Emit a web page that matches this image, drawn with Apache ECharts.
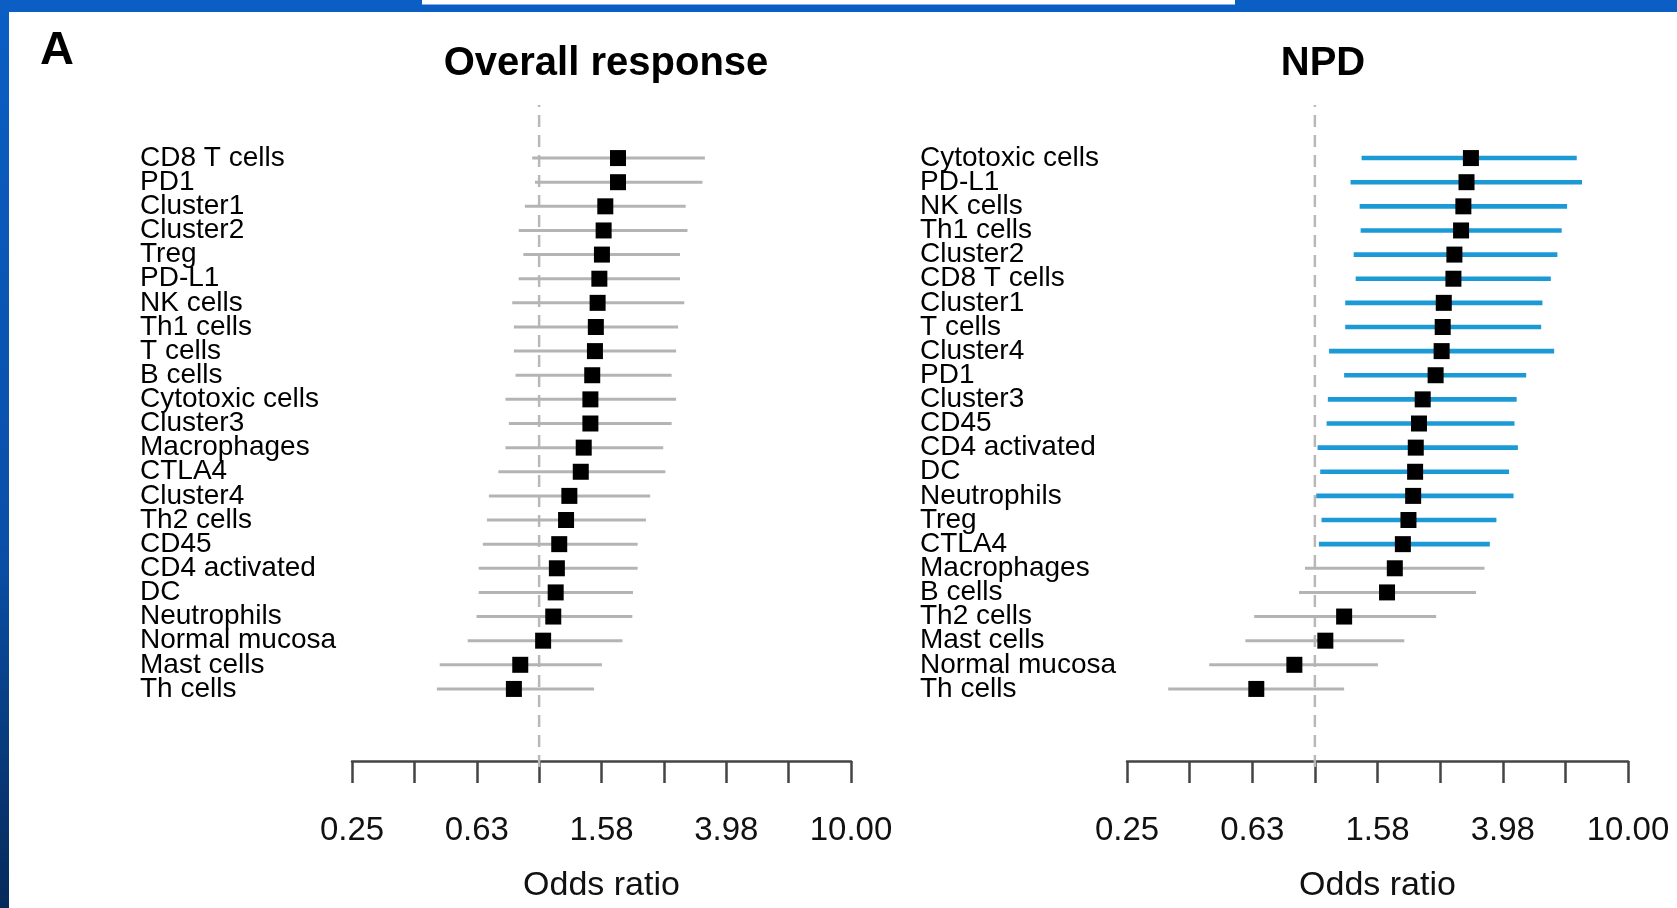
<!DOCTYPE html>
<html>
<head>
<meta charset="utf-8">
<script src="https://cdn.jsdelivr.net/npm/echarts@6/dist/echarts.min.js"></script>
<style>
html,body{margin:0;padding:0;background:#fff;}
#chart{width:1677px;height:908px;}
</style>
</head>
<body>
<div id="chart"></div>
<script>
// ---- data ----
var leftTitle = "Overall response";
var rightTitle = "NPD";
var axisName = "Odds ratio";
var tickLabels = ["0.25", "0.63", "1.58", "3.98", "10.00"];

var leftCategories = ["CD8 T cells","PD1","Cluster1","Cluster2","Treg","PD-L1","NK cells","Th1 cells","T cells","B cells","Cytotoxic cells","Cluster3","Macrophages","CTLA4","Cluster4","Th2 cells","CD45","CD4 activated","DC","Neutrophils","Normal mucosa","Mast cells","Th cells"];
var leftOR   = [1.79,1.79,1.63,1.61,1.59,1.56,1.54,1.52,1.51,1.48,1.46,1.46,1.39,1.36,1.25,1.22,1.16,1.14,1.13,1.11,1.03,0.87,0.83];
var leftLow  = [0.95,0.97,0.90,0.86,0.89,0.86,0.82,0.83,0.83,0.84,0.78,0.80,0.78,0.74,0.69,0.68,0.66,0.64,0.64,0.63,0.59,0.48,0.47];
var leftHigh = [3.40,3.34,2.95,2.99,2.83,2.83,2.92,2.79,2.75,2.66,2.75,2.66,2.50,2.54,2.27,2.20,2.07,2.07,2.00,1.99,1.85,1.59,1.50];

var rightCategories = ["Cytotoxic cells","PD-L1","NK cells","Th1 cells","Cluster2","CD8 T cells","Cluster1","T cells","Cluster4","PD1","Cluster3","CD45","CD4 activated","DC","Neutrophils","Treg","CTLA4","Macrophages","B cells","Th2 cells","Mast cells","Normal mucosa","Th cells"];
var rightOR   = [3.15,3.05,2.98,2.93,2.79,2.77,2.58,2.56,2.54,2.43,2.21,2.15,2.10,2.09,2.06,1.99,1.91,1.80,1.70,1.24,1.08,0.86,0.65];
var rightLow  = [1.41,1.30,1.39,1.40,1.33,1.35,1.25,1.25,1.11,1.24,1.10,1.09,1.02,1.04,1.01,1.05,1.03,0.93,0.89,0.64,0.60,0.46,0.34];
var rightHigh = [6.86,7.13,6.39,6.14,5.95,5.67,5.33,5.28,5.81,4.73,4.41,4.34,4.45,4.17,4.31,3.80,3.62,3.48,3.27,2.44,1.93,1.59,1.24];

// ---- helpers ----
// axis unit: one tick = 10^0.2, so value = 5*log10(OR)
function tv(or){ return 5 * Math.log10(or); }

var GRAY = '#b4b4b4', BLUE = '#1b9ad6', AXIS = '#444';
var FONT = 'Liberation Sans, Arial, sans-serif';

function ciData(cats, low, high){
  return cats.map(function(c,i){ return [tv(low[i]), tv(high[i]), i, low[i] > 1 ? 1 : 0]; });
}
function ptData(cats, or){
  return cats.map(function(c,i){ return [tv(or[i]), i]; });
}
function renderCI(params, api){
  var a = api.coord([api.value(0), api.value(2)]);
  var b = api.coord([api.value(1), api.value(2)]);
  var sig = api.value(3) === 1;
  return {
    type: 'line',
    shape: {x1: a[0], y1: a[1], x2: b[0], y2: b[1]},
    style: {stroke: sig ? BLUE : GRAY, lineWidth: sig ? 4.6 : 3}
  };
}
function labelFmt(v){
  var k = Math.round(v) + 3;
  if (k % 2 !== 0) return '';
  return tickLabels[k / 2];
}

var panels = [
  {left: 352, width: 499, cats: leftCategories, or: leftOR, low: leftLow, high: leftHigh, labelMargin: 212},
  {left: 1127, width: 501, cats: rightCategories, or: rightOR, low: rightLow, high: rightHigh, labelMargin: 207}
];

var CAT_TOP = 146, CAT_H = 561, DASH_TOP = 105, AXIS_Y = 767;

var grid = [], xAxis = [], yAxis = [], series = [];
panels.forEach(function(p, k){
  var gi = k * 2;
  grid.push({left: p.left, width: p.width, top: CAT_TOP, height: CAT_H});
  grid.push({left: p.left, width: p.width, top: DASH_TOP, height: AXIS_Y - DASH_TOP});
  xAxis.push({
    type: 'value', gridIndex: gi, min: -3, max: 5, interval: 1,
    offset: AXIS_Y - (CAT_TOP + CAT_H),
    splitLine: {show: false},
    axisLine: {show: true, lineStyle: {color: AXIS, width: 2.5}},
    axisTick: {show: true, length: 22, lineStyle: {color: AXIS, width: 2.5}},
    axisLabel: {formatter: labelFmt, margin: 53, fontSize: 33, color: '#111', fontFamily: FONT, showMinLabel: true, showMaxLabel: true},
    name: axisName, nameLocation: 'middle', nameGap: 108,
    nameTextStyle: {fontSize: 34, color: '#111', fontFamily: FONT}
  });
  xAxis.push({type: 'value', gridIndex: gi + 1, min: -3, max: 5, show: false});
  yAxis.push({
    type: 'category', gridIndex: gi, data: p.cats, inverse: true,
    axisLine: {show: false}, axisTick: {show: false}, splitLine: {show: false},
    axisLabel: {align: 'left', margin: p.labelMargin, fontSize: 28, color: '#000', fontFamily: FONT, interval: 0}
  });
  yAxis.push({type: 'value', gridIndex: gi + 1, min: 0, max: 1, show: false});

  series.push({
    type: 'line', xAxisIndex: gi + 1, yAxisIndex: gi + 1,
    data: [[tv(1), 0], [tv(1), 1]], symbol: 'none', silent: true, z: 1,
    lineStyle: {color: '#b8b8b8', width: 2.5, type: [12, 8]}
  });
  series.push({
    type: 'custom', xAxisIndex: gi, yAxisIndex: gi, z: 2,
    renderItem: renderCI, data: ciData(p.cats, p.low, p.high),
    encode: {x: [0, 1], y: 2}
  });
  series.push({
    type: 'scatter', xAxisIndex: gi, yAxisIndex: gi, z: 3,
    symbol: 'rect', symbolSize: 16, itemStyle: {color: '#000', opacity: 1},
    data: ptData(p.cats, p.or)
  });
});

var chart = echarts.init(document.getElementById('chart'), null, {renderer: 'canvas'});
chart.setOption({
  animation: false,
  backgroundColor: '#fff',
  title: [
    {text: leftTitle, left: 601, top: 39, textAlign: 'center', textStyle: {fontSize: 40, fontWeight: 'bold', color: '#000', fontFamily: FONT}},
    {text: rightTitle, left: 1318, top: 39, textAlign: 'center', textStyle: {fontSize: 40, fontWeight: 'bold', color: '#000', fontFamily: FONT}}
  ],
  grid: grid, xAxis: xAxis, yAxis: yAxis, series: series,
  graphic: [
    {type: 'rect', left: 0, top: 0, z: 100, shape: {width: 1677, height: 12}, style: {fill: '#0a5ec4'}},
    {type: 'rect', left: 422, top: 0, z: 101, shape: {width: 813, height: 4.5}, style: {fill: '#fff'}},
    {type: 'rect', left: 0, top: 0, z: 102, shape: {width: 9, height: 908},
      style: {fill: new echarts.graphic.LinearGradient(0, 0, 0, 1, [{offset: 0, color: '#0a5ec4'}, {offset: 0.6, color: '#0a4fa8'}, {offset: 1, color: '#062a5a'}])}},
    {type: 'text', left: 40, top: 28, z: 100, style: {text: 'A', fontSize: 47, fontWeight: 'bold', fill: '#000', fontFamily: FONT}}
  ]
});
</script>
</body>
</html>
